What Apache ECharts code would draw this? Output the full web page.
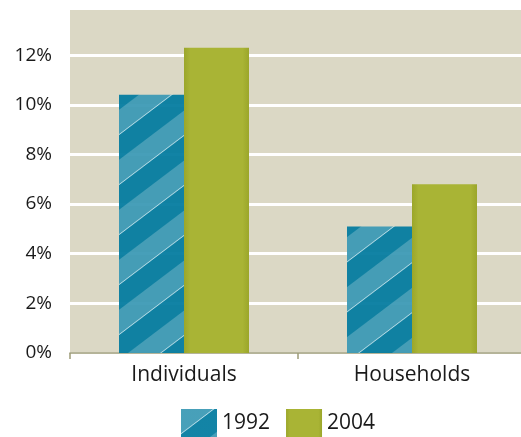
<!DOCTYPE html>
<html>
<head>
<meta charset="utf-8">
<script src="https://cdn.jsdelivr.net/npm/echarts@6/dist/echarts.min.js"></script>
<style>
html,body{margin:0;padding:0;background:#fff;}
#chart{width:521px;height:437px;}
</style>
</head>
<body>
<div id="chart"></div>
<script>
// Data
const categories = ['Individuals', 'Households'];
const seriesNames = ['1992', '2004'];
const values1992 = [10.4, 5.1];
const values2004 = [12.3, 6.8];
const yTicks = [0, 2, 4, 6, 8, 10, 12];

// Diagonal stripe pattern for 1992 bars
function makeStripe() {
  const w = 66, h = 50, P = 50, s = P / w;
  const c = document.createElement('canvas');
  c.width = w; c.height = h;
  const ctx = c.getContext('2d');
  const img = ctx.createImageData(w, h);
  const dark = [4, 124, 160], light = [60, 154, 181], line = [190, 225, 235];
  const N = 4;
  for (let y = 0; y < h; y++) {
    for (let x = 0; x < w; x++) {
      let r = 0, g = 0, b = 0;
      for (let sy = 0; sy < N; sy++) for (let sx = 0; sx < N; sx++) {
        const px = x + (sx + 0.5) / N, py = y + (sy + 0.5) / N;
        let ph = (py + s * px) % P; if (ph < 0) ph += P;
        let col;
        if (ph >= 24.3 && ph < 25.3) col = line;
        else if (ph < 24.3) col = light;
        else col = dark;
        r += col[0]; g += col[1]; b += col[2];
      }
      const i = (y * w + x) * 4;
      img.data[i] = r / (N * N); img.data[i + 1] = g / (N * N); img.data[i + 2] = b / (N * N); img.data[i + 3] = 255;
    }
  }
  ctx.putImageData(img, 0, 0);
  return c;
}
const stripe = makeStripe();

const chart = echarts.init(document.getElementById('chart'), null, {renderer: 'canvas'});
const font = '"Open Sans", "Noto Sans", sans-serif';
const greenFill = new echarts.graphic.LinearGradient(0, 0, 1, 0, [
  {offset: 0, color: '#9ba62a'},
  {offset: 0.1, color: '#a9b435'},
  {offset: 0.9, color: '#a9b435'},
  {offset: 1, color: '#9ba62a'}
]);

chart.setOption({
  animation: false,
  backgroundColor: '#ffffff',
  grid: {
    left: 70, top: 8, width: 456, height: 345,
    outerBoundsMode: 'none', containLabel: false,
    show: true, backgroundColor: '#dbd8c5', borderWidth: 0
  },
  legend: {
    left: 176, top: 404,
    icon: 'rect',
    itemWidth: 36, itemHeight: 28, itemGap: 16,
    textStyle: {fontSize: 21, color: '#1a1a1a', fontFamily: font},
    data: seriesNames
  },
  xAxis: {
    type: 'category',
    data: categories,
    axisLine: {show: true, lineStyle: {color: '#9d9c78', width: 1.5}},
    axisTick: {show: true, length: 6, lineStyle: {color: '#9d9c78', width: 1.5}},
    axisLabel: {fontSize: 21, color: '#1a1a1a', fontFamily: font, margin: 12},
    splitLine: {show: false}
  },
  yAxis: {
    type: 'value',
    min: 0, max: 13.9, interval: 2,
    axisLine: {show: false},
    axisTick: {show: false},
    axisLabel: {
      fontSize: 19, color: '#1a1a1a', fontFamily: font, margin: 18,
      showMaxLabel: false,
      formatter: v => yTicks.indexOf(v) >= 0 ? v + '%' : ''
    },
    splitLine: {show: true, lineStyle: {color: '#ffffff', width: 3}}
  },
  series: [
    {
      name: seriesNames[0], type: 'bar', data: values1992,
      barWidth: 65, barGap: '0%',
      itemStyle: {color: {image: stripe, repeat: 'repeat'}, opacity: 0.94}
    },
    {
      name: seriesNames[1], type: 'bar', data: values2004,
      barWidth: 65,
      itemStyle: {color: greenFill}
    }
  ]
});
</script>
</body>
</html>
